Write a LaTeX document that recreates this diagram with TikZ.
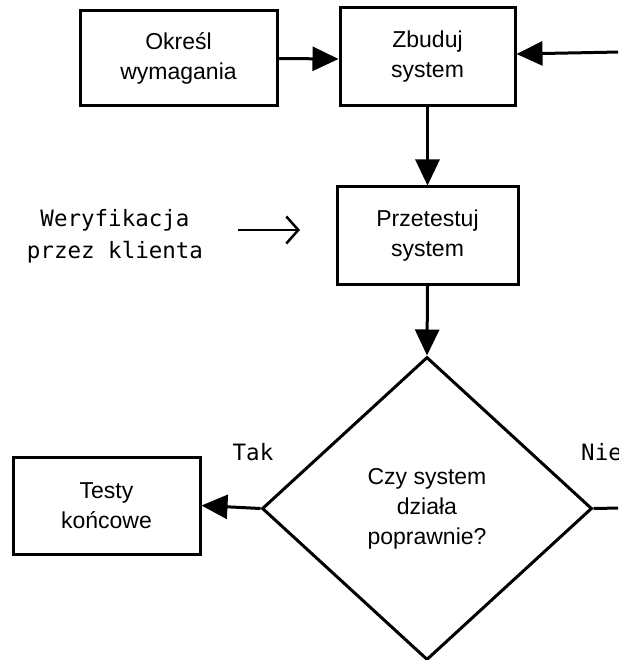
\documentclass[tikz,border=0pt]{standalone}
\usepackage{fontspec}
\setmainfont{Liberation Sans}
\newfontfamily\codefont{DejaVu Sans Mono}
\usetikzlibrary{arrows.meta,shapes.geometric,calc}

\tikzset{
  procbox/.style={draw, line width=3pt, rectangle, align=center, inner sep=0pt,
    font=\fontsize{23}{30}\selectfont},
  decision/.style={draw, line width=3pt, diamond, aspect=1, inner sep=0pt, align=center,
    font=\fontsize{23}{30}\selectfont},
  flow/.style={line width=3pt, -{Triangle[length=26pt,width=24pt]}},
  plainline/.style={line width=3pt},
  note/.style={font=\codefont\fontsize{22.5}{32}\selectfont, align=center, inner sep=0pt},
  openarrow/.style={line width=2.5pt, -{Straight Barb[length=12pt,width=27pt,line width=2.5pt]}}
}

\begin{document}
\begin{tikzpicture}[x=1pt, y=-1pt]
  \useasboundingbox (0,0) rectangle (618,660);
  \clip (0,0) rectangle (618,660);

  % process boxes
  \node[procbox, minimum width=197pt, minimum height=95pt] (okresl) at (178.5,58.5) {Określ\\wymagania};
  \node[procbox, minimum width=175pt, minimum height=98pt] (zbuduj) at (427.5,57) {Zbuduj\\system};
  \node[procbox, minimum width=181pt, minimum height=97pt] (test) at (427.5,235.5) {Przetestuj\\system};
  \node[procbox, minimum width=187pt, minimum height=97pt] (final) at (106.5,505.5) {Testy\\końcowe};

  % decision
  \node[decision, minimum width=330pt, minimum height=303pt] (check) at (427,508.5) {Czy system\\działa\\poprawnie?};

  % side note with its open arrow
  \node[note] (verify) at (115,236) {Weryfikacja\\przez klienta};
  \coordinate (vs) at (238,230);
  \coordinate (ve) at (300,230);
  \draw[openarrow] (vs) -- (ve);

  % branch labels
  \node[note, anchor=base] (yes) at (253,460) {Tak};
  \node[note, anchor=base west] (no) at (581,460) {Nie};

  % connectors
  \coordinate (loopin) at (620,52);
  \coordinate (loopout) at (620,508);
  \draw[flow] (okresl.east) -- ($(zbuduj.west)+(0,2)$);
  \draw[flow] (loopin) -- ($(zbuduj.east)+(0,-3)$);
  \draw[flow] (zbuduj.south) -- (test.north);
  \draw[flow] (test.south) -- (check.north);
  \draw[flow] (check.west) -- (final.east);
  \draw[plainline] (check.east) -- (loopout);
\end{tikzpicture}
\end{document}
